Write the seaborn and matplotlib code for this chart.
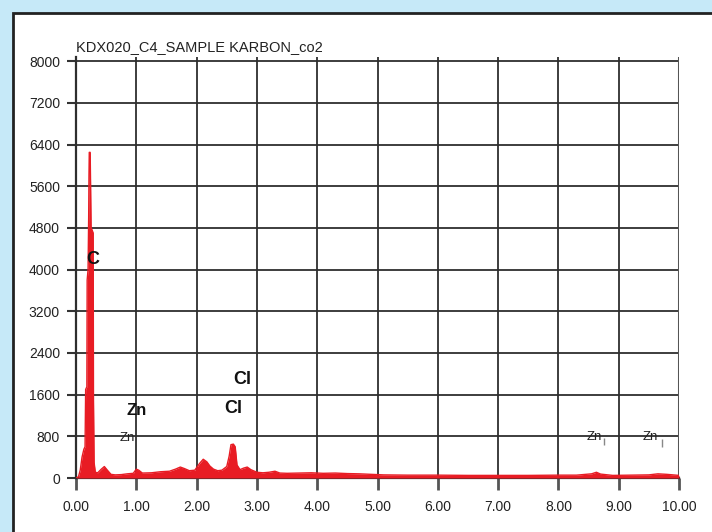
import matplotlib
matplotlib.use("Agg")
import matplotlib.pyplot as plt
import seaborn as sns
from matplotlib.patches import Rectangle

# EDX spectrum (energy in keV, counts)
energy_kev = [0.00, 0.04, 0.07, 0.10, 0.13, 0.15, 0.16, 0.18, 0.185, 0.20, 0.21, 0.215,
              0.22, 0.235, 0.24, 0.25, 0.27, 0.285, 0.29, 0.30, 0.32, 0.36, 0.42, 0.47,
              0.52, 0.58, 0.65, 0.75, 0.85, 0.95, 1.00, 1.04, 1.10, 1.25, 1.40, 1.55,
              1.65, 1.73, 1.80, 1.88, 1.97, 2.05, 2.11, 2.17, 2.22, 2.28, 2.35, 2.42,
              2.50, 2.54, 2.57, 2.61, 2.64, 2.67, 2.72, 2.78, 2.84, 2.90, 3.00, 3.10,
              3.20, 3.30, 3.38, 3.50, 3.70, 3.90, 4.10, 4.30, 4.50, 4.70, 4.90, 5.10,
              5.50, 6.00, 6.50, 7.00, 7.50, 8.00, 8.30, 8.55, 8.63, 8.70, 8.90, 9.20,
              9.50, 9.65, 9.80, 10.00]
counts = [0, 20, 150, 400, 550, 600, 1700, 1750, 3800, 4000, 5000, 5800,
          6250, 6250, 5800, 4800, 4750, 4700, 1500, 300, 110, 100, 170, 220,
          150, 70, 60, 65, 80, 90, 170, 150, 95, 100, 120, 130,
          170, 210, 180, 140, 150, 280, 360, 310, 230, 170, 140, 150,
          220, 420, 640, 650, 600, 250, 160, 190, 210, 160, 110, 100,
          110, 130, 95, 90, 95, 100, 90, 95, 85, 80, 70, 60,
          55, 55, 50, 50, 50, 55, 55, 80, 110, 75, 50, 55,
          60, 80, 70, 50]

x_ticks = [0, 1, 2, 3, 4, 5, 6, 7, 8, 9, 10]
x_tick_labels = ["0.00", "1.00", "2.00", "3.00", "4.00", "5.00",
                 "6.00", "7.00", "8.00", "9.00", "10.00"]
y_ticks = [0, 800, 1600, 2400, 3200, 4000, 4800, 5600, 6400, 7200, 8000]

# element labels: text, x (keV), y (counts), size, bold
peak_labels = ["C", "Zn", "Zn", "Cl", "Cl", "Zn", "Zn"]
peak_x = [0.27, 1.00, 0.85, 2.75, 2.60, 8.60, 9.53]
peak_y = [4200, 1290, 770, 1900, 1340, 790, 780]
peak_size = [13, 12, 9.5, 13, 13, 9.5, 9.5]
peak_bold = [True, True, False, True, True, False, False]

sns.set_style("ticks")
plt.rcParams["font.family"] = ["Liberation Sans", "DejaVu Sans"]

red = "#e81c24"
grid_col = "#2e2e2e"

fig = plt.figure(figsize=(7.12, 5.32), dpi=100)
fig.patch.set_facecolor("#c6e9f8")
fig.add_artist(Rectangle((13 / 712, -0.05), 1.1, 1 - 13 / 532 + 0.05,
                         transform=fig.transFigure, facecolor="white",
                         edgecolor="#222222", linewidth=2, zorder=0))

ax = fig.add_axes([76 / 712, 54 / 532, 603 / 712, 421 / 532])
ax.set_facecolor("white")

sns.lineplot(x=energy_kev, y=counts, color=red, linewidth=1.0, ax=ax, zorder=3)
ax.fill_between(energy_kev, counts, color=red, linewidth=0, zorder=3)

ax.set_xlim(0, 10)
ax.set_ylim(0, 8080)
ax.set_xticks(x_ticks)
ax.set_xticklabels(x_tick_labels)
ax.set_yticks(y_ticks)
ax.set_yticklabels([str(v) for v in y_ticks])

ax.grid(True, color=grid_col, linewidth=1.3, zorder=1)
ax.set_axisbelow(True)
ax.axvline(10, color="#555555", linewidth=2.2, zorder=2)

for s in ["top", "right"]:
    ax.spines[s].set_visible(False)
ax.spines["left"].set_color(grid_col)
ax.spines["left"].set_linewidth(1.6)
ax.spines["bottom"].set_color(grid_col)
ax.spines["bottom"].set_linewidth(1.6)

ax.tick_params(axis="y", direction="out", length=6.5, width=1.5, color="#333333",
               pad=5, labelsize=10, labelcolor="#222222")
ax.tick_params(axis="x", direction="out", length=8.5, width=2, color="#555555",
               pad=7, labelsize=10, labelcolor="#222222")

ax.set_xlabel("")
ax.set_ylabel("")
ax.set_title("KDX020_C4_SAMPLE KARBON_co2", loc="left", fontsize=10.5,
             color="#222222", pad=4.5)

for lab, px, py, fs, bold in zip(peak_labels, peak_x, peak_y, peak_size, peak_bold):
    ax.text(px, py, lab, fontsize=fs, ha="center", va="center",
            fontweight="heavy" if bold else "normal",
            color="#111111" if bold else "#222222", zorder=4)

# little marker bars next to the high-energy Zn labels
ax.vlines([8.75, 9.72], [640, 600], [760, 740], color="#888888", linewidth=1, zorder=4)

fig.savefig("out.png", dpi=100, facecolor=fig.get_facecolor())
